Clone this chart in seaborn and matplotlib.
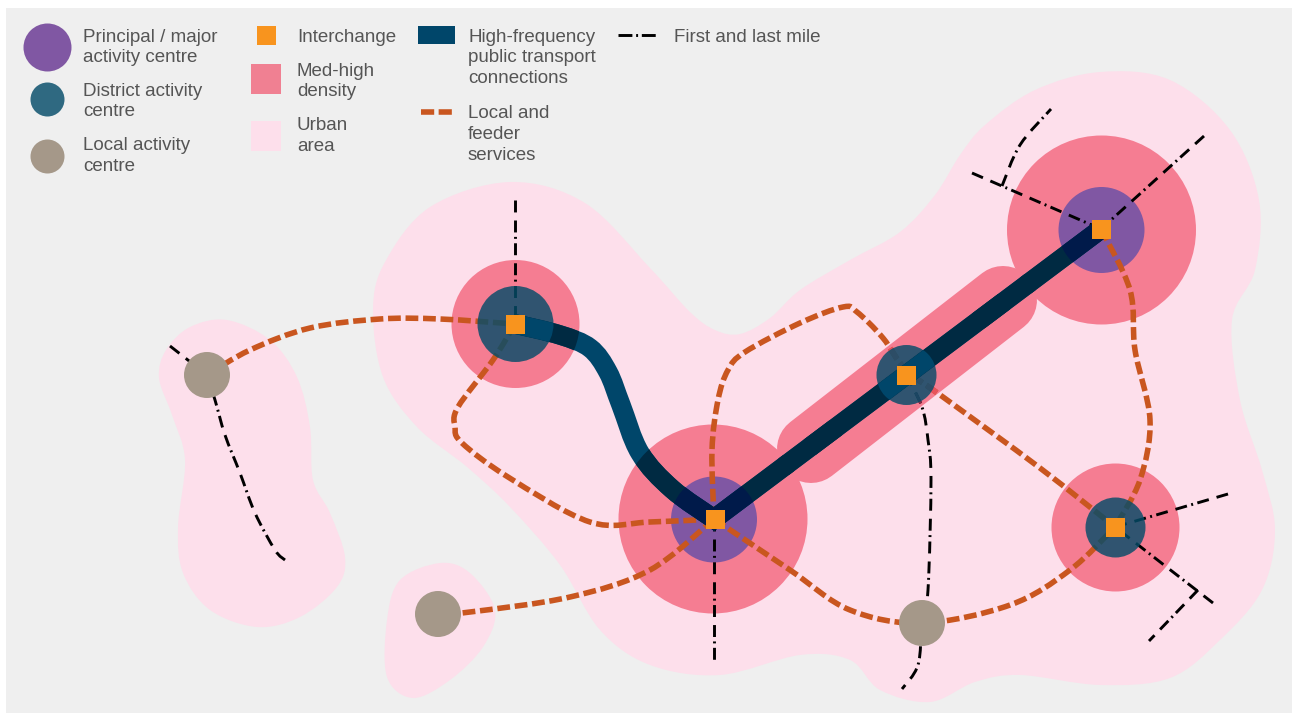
import numpy as np
import seaborn as sns
import matplotlib.pyplot as plt
from matplotlib.path import Path
from matplotlib.patches import PathPatch, Circle, Polygon, Rectangle

# Colours ---------------------------------------------------------------------
BG, URBAN, RED = '#efefef', '#fddfeb', '#f57d92'
PURPLE, DISTRICT, LOCAL = '#8057a3', '#044c69', '#a59889'
ORANGE, FEEDER, HF, HF_RED, HF_PURPLE = '#f8941e', '#c9561f', '#00466a', '#002a42', '#001a4a'
TXT = '#555555'
# Blobs -----------------------------------------------------------------------
main_blob = [(373, 310), (385, 262), (430, 207), (510, 182), (585, 203), (650, 268), (690, 312), (715, 330),
             (740, 334), (770, 318), (800, 290), (850, 260), (900, 232), (935, 195), (960, 155), (985, 125),
             (1035, 90), (1100, 72), (1170, 80), (1230, 130), (1259, 200), (1255, 270), (1232, 320), (1240, 400),
             (1262, 470), (1275, 530), (1262, 590), (1220, 640), (1170, 678), (1100, 685), (1020, 675), (975, 682),
             (930, 702), (880, 690), (850, 660), (800, 655), (720, 675), (650, 665), (600, 630), (560, 565),
             (510, 507), (467, 467), (417, 427), (383, 377)]
left_blob = [(159, 378), (166, 350), (190, 327), (227, 320), (270, 340), (297, 377), (310, 427), (313, 480),
             (330, 513), (345, 557), (337, 587), (300, 617), (257, 627), (210, 610), (183, 573), (178, 527),
             (185, 460), (172, 415)]
small_blob = [(440, 563), (470, 573), (495, 610), (483, 647), (450, 680), (413, 698), (387, 677), (387, 620),
              (400, 580)]
# Centres ---------------------------------------------------------------------
red_x, red_y, red_r = [515.5, 713, 1101.5, 1115.5], [324, 519, 230, 527.5], [64, 94.5, 94.5, 64]
purple_x, purple_y, purple_r = [714, 1101.5], [519.5, 230], [43, 43]
district_x, district_y, district_r = [515.5, 906.5, 1115.5], [324, 375, 527.5], [38, 30, 30]
local_x, local_y, local_r = [207, 438, 922], [375, 614, 623], [23, 23, 23]
square_x, square_y = [515, 714.5, 906, 1101, 1115], [324, 519, 375, 229, 527]
capsule_x, capsule_y = [811, 1003], [449, 300]
# Feeder routes ---------------------------------------------------------------
feeder_mid = [(714, 519), (712, 450), (718, 400), (728, 370), (745, 352), (800, 323), (843, 307), (857, 312),
              (883, 338), (906, 370), (943, 397), (1040, 468), (1115, 527)]
feeders = [
    [(207, 375), (250, 350), (310, 328), (380, 319), (440, 319), (515, 324)],
    [(515, 324), (493, 360), (458, 407), (455, 427), (462, 443), (508, 477), (590, 522), (650, 522), (714, 519)],
    feeder_mid,
    [(714, 519), (650, 570), (570, 597), (470, 612), (438, 614)],
    [(714, 519), (790, 570), (850, 610), (922, 623), (1010, 605), (1070, 570), (1115, 527)],
    [(1101, 229), (1130, 290), (1135, 350), (1150, 420), (1140, 480), (1115, 527)],
]
# First and last mile ---------------------------------------------------------
mile_mid = [(906, 375), (922, 407), (928, 440), (931, 480), (928, 590), (922, 623), (918, 665), (902, 689)]
miles_curved = [
    [(207, 375), (215, 400), (225, 435), (240, 473), (255, 513), (275, 550), (285, 560)],
    mile_mid,
    [(1002, 186), (1020, 145), (1051, 109)],
]
miles_straight = [
    ([170, 207], [346, 375]),
    ([515, 515], [200, 324]),
    ([714, 714], [519, 660]),
    ([1204, 1101], [136, 229]),
    ([972, 1101], [173, 229]),
    ([1228, 1115], [494, 527]),
    ([1213, 1115], [603, 527]),
    ([1198, 1149], [590, 641]),
]
# High-frequency --------------------------------------------------------------
hf_curve = [(515, 324), (560, 335), (590, 348), (608, 372), (621, 405), (640, 453), (672, 489), (714, 519)]
hf_end = (1101, 229)
# Legend ----------------------------------------------------------------------
legend_circles = [(47, 47, 24, PURPLE, 1), (47, 99, 17, DISTRICT, .82), (47, 155.5, 17, LOCAL, 1)]
labels = [
    (83, 36, 'Principal / major\nactivity centre'),
    (83, 90, 'District activity\ncentre'),
    (83, 145, 'Local activity\ncentre'),
    (297, 36, 'Interchange'),
    (297, 70, 'Med-high\ndensity'),
    (297, 125, 'Urban\narea'),
    (468, 36, 'High-frequency\npublic transport\nconnections'),
    (468, 113, 'Local and\nfeeder\nservices'),
    (674, 36, 'First and last mile'),
]


def px2(r):
    # scatter size (pt^2) of a circle with a radius in pixels at dpi 100
    return (2 * r * .72) ** 2


def smooth(pts, closed=False):
    # Catmull-Rom through the control points, as Bezier segments
    p = np.array(pts, float)
    n = len(p)
    verts, codes = [p[0]], [Path.MOVETO]
    for i in range(n if closed else n - 1):
        if closed:
            a, b, c, d = p[(i - 1) % n], p[i], p[(i + 1) % n], p[(i + 2) % n]
        else:
            a, b, c, d = p[max(i - 1, 0)], p[i], p[i + 1], p[min(i + 2, n - 1)]
        verts += [b + (c - a) / 6, c - (d - b) / 6, c]
        codes += [Path.CURVE4] * 3
    if closed:
        verts.append(p[0])
        codes.append(Path.CLOSEPOLY)
    return Path(verts, codes)


def dots(ax, x, y, r, color, z, alpha=1, marker='o'):
    sns.scatterplot(x=x, y=y, s=[px2(v) for v in r], color=color, linewidth=0, marker=marker,
                    alpha=alpha, zorder=z, legend=False, ax=ax)


sns.set_theme(style='white')
plt.rcParams['font.family'] = ['Liberation Sans', 'DejaVu Sans']
plt.rcParams['lines.scale_dashes'] = False

fig = plt.figure(figsize=(12.92, 7.13), dpi=100)
ax = fig.add_axes([0, 0, 1, 1])
ax.add_patch(Rectangle((6, 8), 1286, 705, fc=BG, ec='none', zorder=0))

FEED_LS = (0, (9.2, 3.4))
MILE_LS = (0, (8.6, 5.8, 8.6, 3.2, 1.4, 3.2))
FEED_W, MILE_W, HF_W = 4, 2.1, 14

for blob in (main_blob, left_blob, small_blob):
    ax.add_patch(PathPatch(smooth(blob, closed=True), fc=URBAN, ec='none', zorder=1))
dots(ax, red_x, red_y, red_r, RED, 2)
sns.lineplot(x=capsule_x, y=capsule_y, color=RED, linewidth=68 * .72, solid_capstyle='round',
             sort=False, estimator=None, zorder=2, legend=False, ax=ax)
dots(ax, purple_x, purple_y, purple_r, PURPLE, 3)

for route in feeders:
    ax.add_patch(PathPatch(smooth(route), fc='none', ec=FEEDER, lw=FEED_W, ls=FEED_LS,
                           capstyle='butt', zorder=4))
for route in miles_curved:
    ax.add_patch(PathPatch(smooth(route), fc='none', ec='black', lw=MILE_W, ls=MILE_LS,
                           capstyle='butt', zorder=4))
for (mx, my) in miles_straight:
    sns.lineplot(x=mx, y=my, color='black', linewidth=MILE_W, linestyle=MILE_LS, sort=False,
                 estimator=None, zorder=4, legend=False, ax=ax)

# Capsule sits over the two mid routes: they show through it tinted
d = np.array([capsule_x[1] - capsule_x[0], capsule_y[1] - capsule_y[0]], float)
nrm = np.array([-d[1], d[0]]) / np.hypot(*d) * 34
start, end = np.array([capsule_x[0], capsule_y[0]]), np.array([capsule_x[1], capsule_y[1]])


def capsule_body():
    return Polygon([start + nrm, end + nrm, end - nrm, start - nrm])


for (pts, col, wid, ls) in ((feeder_mid, '#e8525c', FEED_W, FEED_LS), (mile_mid, '#8a2a45', MILE_W, MILE_LS)):
    tint = PathPatch(smooth(pts), fc='none', ec=col, lw=wid, ls=ls, capstyle='butt', zorder=4.5)
    ax.add_patch(tint)
    body = capsule_body()
    body.set_transform(ax.transData)
    tint.set_clip_path(body)

dots(ax, district_x, district_y, district_r, DISTRICT, 5, alpha=.82)
dots(ax, local_x, local_y, local_r, LOCAL, 5)

# High-frequency line: base colour, then darker wherever it crosses other shapes
curve = smooth(hf_curve)
hf_path = Path(np.vstack([curve.vertices, [hf_end]]), list(curve.codes) + [Path.LINETO])


def hf_layer(color, z, clip=None):
    patch = PathPatch(hf_path, fc='none', ec=color, lw=HF_W, capstyle='butt', joinstyle='miter', zorder=z)
    ax.add_patch(patch)
    if clip is not None:
        clip.set_transform(ax.transData)
        patch.set_clip_path(clip)


hf_layer(HF, 6)
hf_layer(HF_RED, 6.1, capsule_body())
hf_layer(HF_RED, 6.1, Circle(start, 34))
hf_layer(HF_RED, 6.1, Circle(end, 34))
for (cx, cy, cr) in zip(red_x, red_y, red_r):
    hf_layer(HF_RED, 6.1, Circle((cx, cy), cr))
for (cx, cy, cr) in zip(district_x[:2], district_y[:2], district_r[:2]):
    hf_layer(HF, 6.2, Circle((cx, cy), cr))
for (cx, cy, cr) in zip(purple_x, purple_y, purple_r):
    hf_layer(HF_PURPLE, 6.2, Circle((cx, cy), cr))

sns.scatterplot(x=square_x, y=square_y, s=(19 * .72) ** 2, color=ORANGE, marker='s', linewidth=0,
                zorder=7, legend=False, ax=ax)

# Legend ----------------------------------------------------------------------
for (lx, ly, lr, lc, la) in legend_circles:
    dots(ax, [lx], [ly], [lr], lc, 3, alpha=la)
ax.add_patch(Rectangle((257, 26), 19, 19, fc=ORANGE, ec='none', zorder=3))
ax.add_patch(Rectangle((251, 64), 30, 30, fc='#f08092', ec='none', zorder=3))
ax.add_patch(Rectangle((251, 121), 30, 30, fc=URBAN, ec='none', zorder=3))
ax.add_patch(Rectangle((418, 26), 37, 18, fc=HF, ec='none', zorder=3))
sns.lineplot(x=[420.5, 452], y=[112, 112], color=FEEDER, linewidth=FEED_W, linestyle=(0, (9.5, 3.2)),
             sort=False, estimator=None, zorder=3, legend=False, ax=ax)
sns.lineplot(x=[618, 656], y=[35, 35], color='black', linewidth=MILE_W,
             linestyle=(0, (10, 2.7, 1.4, 2.7, 10, 3)), sort=False, estimator=None, zorder=3, legend=False, ax=ax)
for (tx, ty, label) in labels:
    ax.text(tx, ty - 7.5, label, color=TXT, fontsize=13.5, va='top', ha='left', linespacing=1.27, zorder=8)

ax.set_xlim(0, 1292)
ax.set_ylim(713, 0)
ax.axis('off')
fig.savefig('out.png', dpi=100)
